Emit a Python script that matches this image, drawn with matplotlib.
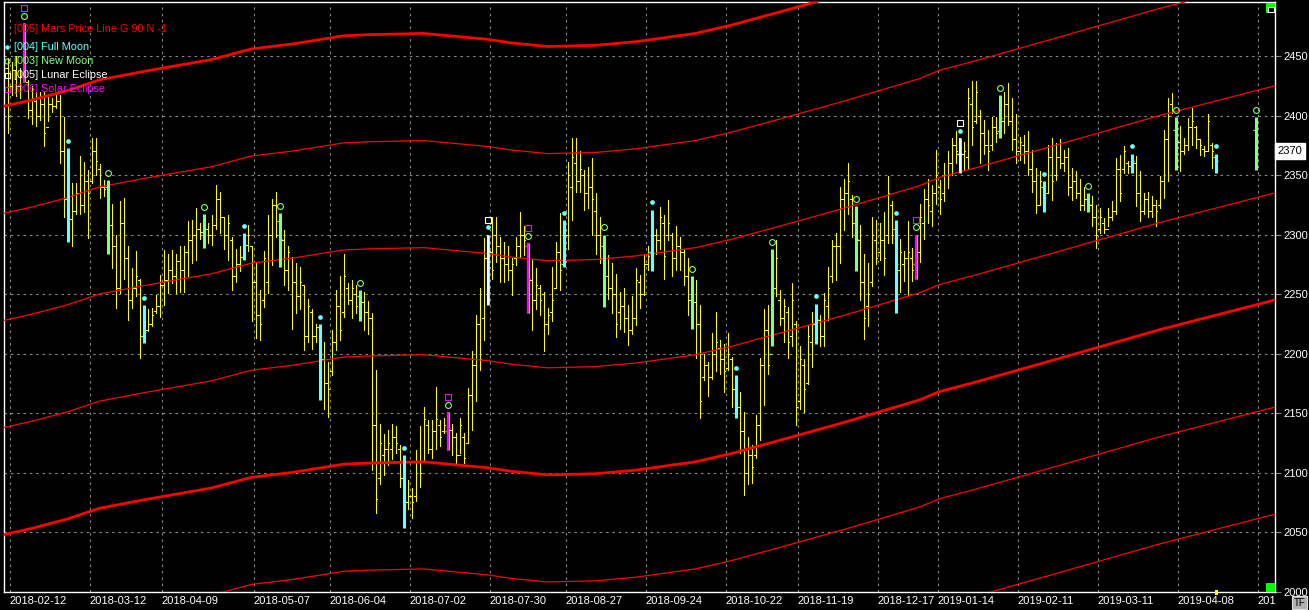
import numpy as np
import matplotlib
matplotlib.use("Agg")
import matplotlib.pyplot as plt
from matplotlib.patches import Rectangle
from matplotlib.lines import Line2D
from matplotlib.transforms import blended_transform_factory, Bbox, TransformedBbox

plt.rcParams['font.family'] = ['Liberation Sans', 'DejaVu Sans']

nan = np.nan

# daily bars, one slot per trading day on the chart (nan = empty slot)
highs = [
    2454, 2448, 2445, 2450, 2440, 2478, 2430, 2425, 2420, 2420,
    2420, 2418, 2415, 2418, 2417, 2399, 2373, 2343, 2343, 2366,
    2361, 2354, 2381, 2381, 2359, 2346, 2346, 2326, 2300, 2328,
    2331, 2290, 2272, 2286, 2263, 2241, 2237, 2238, 2249, 2266,
    2287, 2284, 2287, 2284, 2290, 2290, 2311, 2312, 2322, 2310,
    2317, 2310, 2316, 2342, 2336, 2315, 2316, 2298, 2288, 2290,
    2301, 2308, 2290, 2276, 2253, 2286, 2316, 2330, 2336, 2318,
    2304, 2290, 2281, 2276, 2273, 2258, 2246, 2237, 2225, 2225,
    2210, 2193, 2220, 2253, 2265, 2284, 2259, 2262, 2258, 2253,
    2252, 2244, 2234, 2186, 2141, 2132, 2136, 2141, 2139, 2123,
    2115, 2094, 2087, 2119, 2139, 2155, 2144, 2144, 2172, 2144,
    2146, 2151, 2141, 2133, 2146, 2133, 2171, 2202, 2232, 2255,
    2297, 2300, 2315, 2315, 2298, 2294, 2290, 2280, 2298, 2319,
    2307, 2293, 2279, 2272, 2258, 2252, 2238, 2273, 2294, 2318,
    2312, 2361, 2381, 2381, 2370, 2354, 2357, 2364, 2335, 2315,
    2300, 2283, 2276, 2267, 2252, 2255, 2241, 2248, 2272, 2266,
    2284, 2290, 2321, 2305, 2323, 2316, 2329, 2301, 2307, 2298,
    2288, 2280, 2265, 2262, 2241, 2200, 2193, 2217, 2235, 2211,
    2208, 2217, 2197, 2182, 2168, 2151, 2130, 2123, 2148, 2196,
    2237, 2241, 2288, 2295, 2253, 2246, 2239, 2259, 2227, 2206,
    2195, 2224, 2235, 2242, 2232, 2251, 2273, 2295, 2301, 2340,
    2347, 2360, 2333, 2324, 2308, 2284, 2276, 2315, 2312, 2310,
    2319, 2349, 2328, 2312, 2296, 2286, 2311, 2289, 2300, 2326,
    2338, 2347, 2342, 2371, 2346, 2360, 2370, 2381, 2387, 2381,
    2378, 2423, 2429, 2429, 2405, 2396, 2388, 2399, 2399, 2417,
    2420, 2427, 2415, 2401, 2382, 2384, 2387, 2371, 2356, 2353,
    2345, 2375, 2381, 2377, 2380, 2371, 2373, 2356, 2353, 2347,
    2340, 2335, 2332, 2325, 2322, 2314, 2322, 2328, 2364, 2367,
    2374, 2362, 2368, 2366, 2353, 2335, 2336, 2332, 2329, 2349,
    2388, 2415, 2419, 2399, 2391, 2381, 2398, 2406, 2391, 2380,
    2374, 2401, 2377, 2368,
    nan, nan, nan, nan, nan, nan, nan, nan, nan,
    2399,
]
lows = [
    2412, 2385, 2417, 2416, 2415, 2428, 2398, 2393, 2391, 2396,
    2374, 2395, 2403, 2406, 2360, 2315, 2294, 2290, 2317, 2317,
    2319, 2297, 2343, 2350, 2331, 2332, 2284, 2272, 2238, 2251,
    2263, 2228, 2238, 2248, 2196, 2209, 2219, 2223, 2234, 2231,
    2241, 2251, 2259, 2251, 2252, 2252, 2265, 2276, 2279, 2296,
    2289, 2293, 2291, 2305, 2301, 2288, 2279, 2253, 2260, 2269,
    2279, 2286, 2227, 2213, 2211, 2239, 2251, 2274, 2298, 2273,
    2258, 2253, 2221, 2234, 2237, 2203, 2210, 2204, 2210, 2161,
    2153, 2147, 2182, 2203, 2211, 2231, 2242, 2230, 2234, 2227,
    2220, 2216, 2102, 2066, 2090, 2098, 2106, 2111, 2116, 2088,
    2053, 2069, 2062, 2076, 2088, 2109, 2116, 2112, 2120, 2122,
    2133, 2119, 2115, 2108, 2116, 2108, 2125, 2136, 2160, 2186,
    2211, 2241, 2263, 2277, 2260, 2260, 2262, 2249, 2274, 2281,
    2283, 2234, 2220, 2237, 2232, 2202, 2216, 2227, 2255, 2253,
    2273, 2288, 2312, 2336, 2336, 2321, 2322, 2300, 2284, 2276,
    2239, 2246, 2234, 2214, 2221, 2218, 2207, 2216, 2224, 2238,
    2249, 2270, 2269, 2284, 2288, 2263, 2295, 2265, 2270, 2270,
    2258, 2232, 2221, 2196, 2146, 2178, 2164, 2179, 2185, 2183,
    2168, 2186, 2155, 2146, 2116, 2081, 2090, 2091, 2112, 2127,
    2157, 2183, 2206, 2248, 2224, 2210, 2196, 2206, 2140, 2153,
    2151, 2174, 2189, 2208, 2206, 2206, 2228, 2260, 2262, 2276,
    2304, 2317, 2298, 2269, 2245, 2212, 2223, 2257, 2275, 2279,
    2266, 2293, 2293, 2234, 2252, 2261, 2249, 2261, 2263, 2277,
    2296, 2310, 2307, 2326, 2317, 2328, 2339, 2350, 2360, 2352,
    2354, 2356, 2375, 2394, 2360, 2368, 2354, 2371, 2378, 2381,
    2385, 2392, 2371, 2360, 2363, 2360, 2350, 2336, 2318, 2325,
    2319, 2335, 2329, 2346, 2356, 2353, 2333, 2329, 2331, 2321,
    2321, 2319, 2307, 2289, 2301, 2301, 2307, 2312, 2317, 2328,
    2352, 2352, 2352, 2324, 2311, 2317, 2315, 2315, 2307, 2322,
    2331, 2345, 2402, 2354, 2353, 2368, 2371, 2375, 2373, 2367,
    2366, 2370, 2356, 2352,
    nan, nan, nan, nan, nan, nan, nan, nan, nan,
    2354,
]
opens = [
    2420, 2440, 2425, 2438, 2425, 2432, 2428, 2405, 2412, 2400,
    2410, 2390, 2410, 2408, 2412, 2370, 2330, 2313, 2320, 2335,
    2325, 2345, 2345, 2370, 2355, 2340, 2340, 2308, 2290, 2255,
    2310, 2280, 2245, 2255, 2262, 2215, 2220, 2225, 2236, 2240,
    2258, 2262, 2270, 2265, 2278, 2270, 2285, 2295, 2300, 2305,
    2302, 2305, 2300, 2308, 2330, 2315, 2300, 2295, 2265, 2275,
    2281, 2291, 2290, 2260, 2232, 2245, 2260, 2300, 2325, 2311,
    2295, 2270, 2280, 2260, 2248, 2258, 2215, 2235, 2215, 2222,
    2195, 2175, 2185, 2210, 2240, 2235, 2255, 2245, 2250, 2248,
    2243, 2235, 2230, 2140, 2095, 2115, 2120, 2120, 2130, 2120,
    2095, 2075, 2080, 2080, 2110, 2110, 2140, 2120, 2135, 2140,
    2135, 2135, 2136, 2130, 2115, 2130, 2125, 2165, 2190, 2225,
    2230, 2280, 2285, 2300, 2290, 2280, 2275, 2270, 2280, 2290,
    2300, 2290, 2262, 2245, 2255, 2250, 2225, 2235, 2255, 2285,
    2275, 2300, 2340, 2360, 2345, 2350, 2335, 2340, 2320, 2300,
    2290, 2265, 2255, 2250, 2235, 2240, 2230, 2220, 2230, 2260,
    2250, 2275, 2285, 2300, 2295, 2310, 2300, 2300, 2280, 2290,
    2285, 2265, 2245, 2243, 2225, 2180, 2190, 2180, 2200, 2205,
    2195, 2188, 2195, 2170, 2155, 2135, 2100, 2115, 2115, 2140,
    2190, 2220, 2200, 2255, 2245, 2230, 2235, 2215, 2225, 2160,
    2190, 2175, 2210, 2225, 2228, 2215, 2240, 2265, 2290, 2290,
    2330, 2335, 2330, 2310, 2295, 2260, 2240, 2260, 2295, 2285,
    2295, 2300, 2325, 2305, 2270, 2275, 2280, 2280, 2275, 2285,
    2310, 2330, 2320, 2335, 2340, 2335, 2350, 2360, 2375, 2368,
    2368, 2365, 2410, 2395, 2400, 2385, 2375, 2375, 2390, 2387,
    2395, 2410, 2395, 2380, 2370, 2375, 2370, 2355, 2345, 2325,
    2340, 2335, 2365, 2350, 2365, 2360, 2365, 2340, 2345, 2335,
    2325, 2330, 2325, 2315, 2305, 2310, 2305, 2315, 2320, 2355,
    2355, 2360, 2358, 2360, 2335, 2320, 2330, 2320, 2325, 2325,
    2345, 2380, 2410, 2388, 2378, 2370, 2375, 2390, 2390, 2380,
    2372, 2370, 2375, 2365,
    nan, nan, nan, nan, nan, nan, nan, nan, nan,
    2388,
]
closes = [
    2440, 2400, 2438, 2425, 2432, 2450, 2405, 2415, 2400, 2410,
    2385, 2410, 2408, 2412, 2370, 2330, 2313, 2320, 2335, 2325,
    2345, 2335, 2370, 2362, 2340, 2338, 2308, 2290, 2255, 2310,
    2280, 2245, 2255, 2265, 2215, 2218, 2225, 2232, 2240, 2258,
    2262, 2270, 2265, 2278, 2270, 2285, 2295, 2300, 2305, 2302,
    2305, 2300, 2308, 2330, 2315, 2300, 2310, 2265, 2275, 2281,
    2291, 2300, 2260, 2232, 2225, 2280, 2300, 2325, 2300, 2296,
    2270, 2285, 2260, 2248, 2260, 2215, 2240, 2215, 2222, 2195,
    2175, 2170, 2210, 2240, 2220, 2265, 2245, 2255, 2240, 2243,
    2235, 2230, 2140, 2078, 2125, 2120, 2125, 2130, 2125, 2095,
    2076, 2080, 2075, 2110, 2100, 2145, 2120, 2135, 2145, 2130,
    2140, 2137, 2130, 2115, 2140, 2112, 2165, 2190, 2225, 2195,
    2280, 2286, 2270, 2290, 2280, 2275, 2270, 2275, 2290, 2300,
    2295, 2263, 2245, 2258, 2245, 2225, 2232, 2245, 2285, 2270,
    2304, 2350, 2365, 2345, 2355, 2335, 2340, 2330, 2300, 2280,
    2265, 2255, 2250, 2225, 2240, 2230, 2220, 2230, 2262, 2250,
    2275, 2282, 2300, 2295, 2315, 2282, 2310, 2280, 2290, 2285,
    2265, 2245, 2243, 2225, 2160, 2190, 2180, 2200, 2210, 2195,
    2185, 2200, 2170, 2155, 2135, 2100, 2115, 2105, 2140, 2190,
    2220, 2190, 2251, 2280, 2230, 2240, 2210, 2245, 2155, 2195,
    2170, 2215, 2225, 2229, 2215, 2245, 2255, 2290, 2290, 2330,
    2335, 2345, 2310, 2296, 2260, 2230, 2250, 2300, 2280, 2295,
    2280, 2335, 2300, 2275, 2285, 2280, 2285, 2270, 2280, 2315,
    2330, 2325, 2335, 2350, 2330, 2350, 2360, 2375, 2370, 2368,
    2370, 2415, 2390, 2420, 2385, 2375, 2370, 2390, 2385, 2398,
    2410, 2395, 2380, 2370, 2378, 2370, 2355, 2345, 2325, 2345,
    2331, 2365, 2345, 2365, 2360, 2365, 2340, 2345, 2335, 2325,
    2330, 2326, 2315, 2300, 2315, 2305, 2315, 2320, 2355, 2335,
    2370, 2358, 2362, 2335, 2320, 2330, 2320, 2325, 2320, 2345,
    2380, 2400, 2405, 2377, 2370, 2375, 2390, 2395, 2380, 2375,
    2370, 2395, 2370, 2362,
    nan, nan, nan, nan, nan, nan, nan, nan, nan,
    2377,
]

# moon / eclipse events (bar slots)
full_moon = [16, 35, 60, 79, 100, 121, 140, 162, 183, 203, 223, 239, 260, 282, 303]
new_moon = [5, 26, 50, 69, 89, 111, 131, 150, 172, 192, 213, 228, 249, 271, 293, 313]
lunar_eclipse = [121, 239]
solar_eclipse = [5, 111, 131, 228]

# Mars price line (base harmonic)
mars_slot = [-1, 7, 16, 24, 35, 40, 52, 62, 72, 85, 92, 105, 121, 127, 136,
             148, 158, 173, 182, 194, 210, 219, 229, 234, 243, 263, 289, 319]
mars_price = [2407, 2413, 2421, 2430, 2437, 2440, 2447, 2456, 2460, 2467, 2468,
              2469, 2464, 2461, 2458, 2459, 2462, 2469, 2476, 2487, 2502, 2511,
              2521, 2528, 2536, 2555, 2580, 2606]
mars_step = 90
mars_levels = range(-7, 2)

tick_slots = [1.5, 21.5, 39.5, 62.5, 81.5, 101.5, 121.5, 140.5, 160.5, 180.5,
              198.5, 218.5, 233.5, 253.5, 273.5, 293.5, 313.5]
tick_labels = ['2018-02-12', '2018-03-12', '2018-04-09', '2018-05-07', '2018-06-04',
               '2018-07-02', '2018-07-30', '2018-08-27', '2018-09-24', '2018-10-22',
               '2018-11-19', '2018-12-17', '2019-01-14', '2019-02-11', '2019-03-11',
               '2019-04-08', '2019-05-06']
price_ticks = list(range(2000, 2451, 50))
last_price = 2370

YELLOW = '#FFFF00'
CYAN = '#66FFFF'
GREEN = '#80FF80'
MAGENTA = '#FF00FF'
RED = '#FF0000'
GRID = '#8A8A8A'

W, H = 1309, 610
fig = plt.figure(figsize=(W / 100, H / 100), dpi=100, facecolor='black')
ax = fig.add_axes([4 / W, 18 / H, 1271 / W, 590 / H], facecolor='black')

x = np.arange(len(highs), dtype=float)
hi = np.array(highs, dtype=float)
lo = np.array(lows, dtype=float)
op = np.array(opens, dtype=float)
cl = np.array(closes, dtype=float)

# grid
for t in tick_slots:
    ax.axvline(t, color=GRID, lw=0.8, ls=(0, (2.2, 3.5)), zorder=1)
for p in price_ticks[1:]:
    ax.axhline(p, color=GRID, lw=0.8, ls=(0, (2.2, 3.5)), zorder=1)

# plain bars (1 px wide, 4 px apart)
events = set(full_moon) | set(new_moon)
plain = np.array([i for i in range(len(x)) if i not in events and not np.isnan(hi[i])])
bar_kw = dict(color=YELLOW, lw=0.72, zorder=2, antialiased=False, snap=True)
ax.vlines(x[plain], lo[plain], hi[plain], **bar_kw)
ax.hlines(op[plain], x[plain] - 0.3, x[plain], **bar_kw)
ax.hlines(cl[plain], x[plain], x[plain] + 0.3, **bar_kw)

# Mars price lines
mp = np.array(mars_price, dtype=float)
for k in mars_levels:
    thick = (k % 4 == 0)
    ax.plot(mars_slot, mp + k * mars_step, color=RED, lw=2.0 if thick else 0.9, zorder=3)


def event_bars(idx, color, lw):
    idx = np.array(idx)
    ax.vlines(x[idx], lo[idx], hi[idx], color=color, lw=lw, zorder=4, snap=True)
    ax.hlines(op[idx], x[idx] - 0.6, x[idx], color=color, lw=0.9, zorder=4)
    ax.hlines(cl[idx], x[idx], x[idx] + 0.6, color=color, lw=0.9, zorder=4)


event_bars(full_moon, CYAN, 2.2)
event_bars(new_moon, GREEN, 2.2)
event_bars(lunar_eclipse, 'white', 1.2)
event_bars(solar_eclipse, MAGENTA, 1.6)

fm = np.array(full_moon)
nm = np.array(new_moon)
le = np.array(lunar_eclipse)
se = np.array(solar_eclipse)
ax.plot(x[fm], hi[fm] + 6, 'o', color=CYAN, ms=3.4, mew=0, zorder=5)
ax.plot(x[nm], hi[nm] + 6, 'o', mfc='none', mec=GREEN, ms=4.2, mew=0.8, zorder=5)
ax.plot(x[le], hi[le] + 12.5, 's', mfc='none', mec='white', ms=4.2, mew=0.8, zorder=5)
ax.plot(x[se], hi[se] + 12.5, 's', mfc='none', mec=MAGENTA, ms=4.2, mew=0.8, zorder=5)

# exactly 4 px per slot
ax.set_xlim(0.125, 317.875)
ax.set_ylim(1999.6, 2495.4)

for s in ax.spines.values():
    s.set_color('white')
    s.set_linewidth(1.0)

# date labels, left aligned on the grid lines, the last one cut at the plot edge
ax.set_xticks([])
clip = TransformedBbox(Bbox.from_extents(0, 0, 1276 / W, 1), fig.transFigure)
trx = blended_transform_factory(ax.transData, ax.transAxes)
for t, lab in zip(tick_slots, tick_labels):
    txt = ax.text(t, -0.006, lab, transform=trx, ha='left', va='top', fontsize=8,
                  color='white', clip_on=True)
    txt.set_clip_box(clip)

ax.yaxis.tick_right()
ax.set_yticks(price_ticks)
ax.tick_params(axis='y', length=4, width=0.8, color=GRID, pad=2, labelsize=8,
               labelcolor='white')

# last price box
tr = blended_transform_factory(ax.transAxes, ax.transData)
ax.text(1.0018, last_price, str(last_price), transform=tr, ha='left', va='center',
        fontsize=8, color='black', zorder=10, clip_on=False,
        bbox=dict(boxstyle='square,pad=0.25', fc='white', ec='white'))


def fx(px):
    return px / W


def fy(py):
    return 1 - py / H


# legend
legend = [
    ('[005] Mars Price Line G 90 N -1', RED, None, 29),
    ('[004] Full Moon', CYAN, 'dot', 47),
    ('[003] New Moon', GREEN, 'circle', 61),
    ('[005] Lunar Eclipse', 'white', 'square', 75),
    ('[006] Solar Eclipse', MAGENTA, 'square', 89),
]
for label, col, mk, py in legend:
    fig.text(fx(14), fy(py), label, color=col, fontsize=7.8, va='center', ha='left', zorder=20)
    if mk == 'dot':
        fig.add_artist(Line2D([fx(7)], [fy(py)], marker='o', color=col, ms=3.2, mew=0,
                              transform=fig.transFigure))
    elif mk == 'circle':
        fig.add_artist(Line2D([fx(7)], [fy(py)], marker='o', mfc='none', mec=col, ms=3.6,
                              mew=0.8, transform=fig.transFigure))
    elif mk == 'square':
        fig.add_artist(Line2D([fx(7)], [fy(py)], marker='s', mfc='none', mec=col, ms=3.6,
                              mew=0.8, transform=fig.transFigure))

# small widgets at the corners
fig.add_artist(Rectangle((fx(1266), fy(13)), 9 / W, 10 / H, transform=fig.transFigure,
                         fc='#00FF00', ec='none', zorder=20))
fig.add_artist(Rectangle((fx(1267.5), fy(12)), 6 / W, 5 / H, transform=fig.transFigure,
                         fc='black', ec='white', lw=0.8, zorder=21))
fig.add_artist(Rectangle((fx(1266), fy(592)), 9 / W, 9 / H, transform=fig.transFigure,
                         fc='#00FF00', ec='none', zorder=20))
fig.add_artist(Rectangle((fx(1215), fy(595)), 3 / W, 5 / H, transform=fig.transFigure,
                         fc=YELLOW, ec='none', zorder=20))
fig.add_artist(Rectangle((fx(1292), fy(609)), 15 / W, 13 / H, transform=fig.transFigure,
                         fc='#B0B0B0', ec='#E0E0E0', lw=0.8, zorder=20))
fig.text(fx(1299.5), fy(602.5), 'TF', color='black', fontsize=7, ha='center', va='center',
         zorder=21)

fig.savefig('out.png', dpi=100, facecolor='black')
